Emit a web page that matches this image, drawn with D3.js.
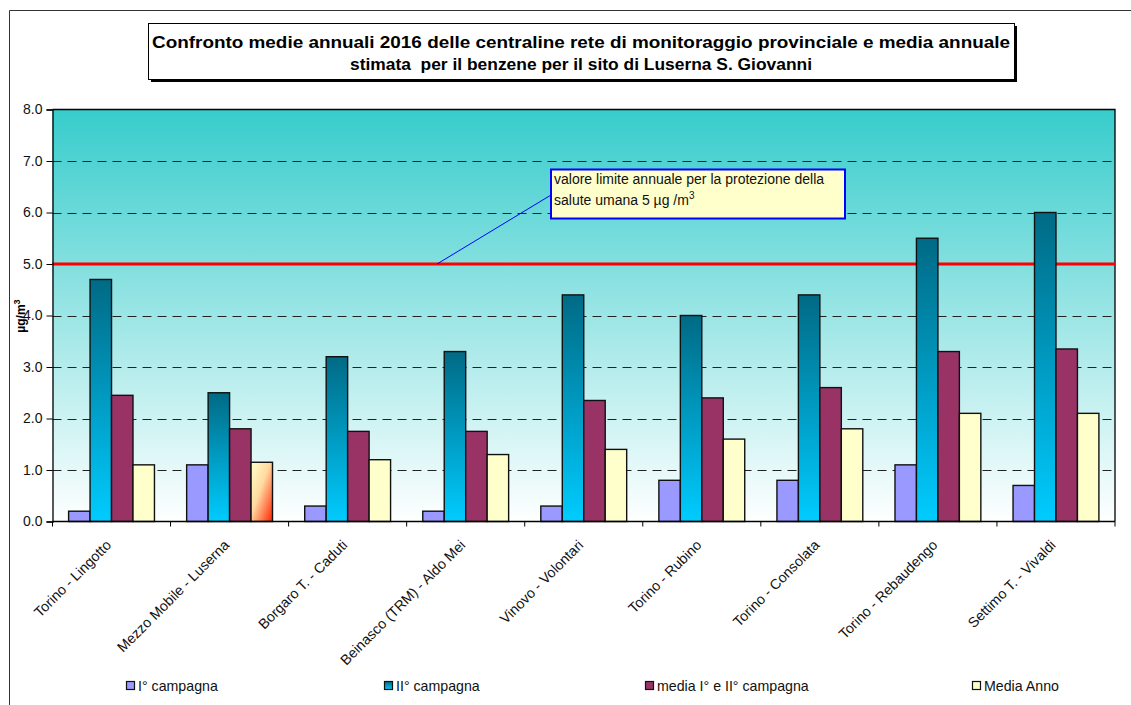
<!DOCTYPE html>
<html>
<head>
<meta charset="utf-8">
<script src="https://cdn.jsdelivr.net/npm/d3@7"></script>
<style>
  html, body { margin: 0; padding: 0; background: #fff; }
  svg { display: block; font-family: "Liberation Sans", Arial, sans-serif; }
</style>
</head>
<body>
<svg id="chart" width="1131" height="705"></svg>
<script>
// Monitoring stations (x categories)
const stations = [
  "Torino - Lingotto",
  "Mezzo Mobile - Luserna",
  "Borgaro T. - Caduti",
  "Beinasco (TRM) - Aldo Mei",
  "Vinovo - Volontari",
  "Torino - Rubino",
  "Torino - Consolata",
  "Torino - Rebaudengo",
  "Settimo T. - Vivaldi"
];

// Benzene concentrations (µg/m³)
const primaCampagna   = [0.2, 1.1, 0.3, 0.2, 0.3, 0.8, 0.8, 1.1, 0.7];
const secondaCampagna = [4.7, 2.5, 3.2, 3.3, 4.4, 4.0, 4.4, 5.5, 6.0];
const mediaCampagne   = [2.45, 1.8, 1.75, 1.75, 2.35, 2.4, 2.6, 3.3, 3.35];
const mediaAnno       = [1.1, 1.15, 1.2, 1.3, 1.4, 1.6, 1.8, 2.1, 2.1];

const seriesNames = ["I° campagna", "II° campagna", "media I° e II° campagna", "Media Anno"];
const yTicks = [0, 1, 2, 3, 4, 5, 6, 7, 8];
const limitValue = 5;
const estimatedSite = "Mezzo Mobile - Luserna";

const seriesValues = [primaCampagna, secondaCampagna, mediaCampagne, mediaAnno];
const seriesFill = ["#9999FF", "url(#gradII)", "#993366", "#FFFFCC"];

const svg = d3.select("#chart");
const defs = svg.append("defs");

// Plot background: teal at the top fading to white
const bg = defs.append("linearGradient").attr("id", "gradBg")
  .attr("x1", 0).attr("y1", 0).attr("x2", 0).attr("y2", 1);
bg.append("stop").attr("offset", "0%").attr("stop-color", "#38CCCC");
bg.append("stop").attr("offset", "100%").attr("stop-color", "#FFFFFF");

// II° campagna bars: dark teal to cyan
const g2 = defs.append("linearGradient").attr("id", "gradII")
  .attr("x1", 0).attr("y1", 0).attr("x2", 0).attr("y2", 1);
g2.append("stop").attr("offset", "0%").attr("stop-color", "#006A85");
g2.append("stop").attr("offset", "100%").attr("stop-color", "#00CCFF");

// Highlighted annual mean for the estimated site
const gh = defs.append("linearGradient").attr("id", "gradHL")
  .attr("x1", 0).attr("y1", 0).attr("x2", 1).attr("y2", 1);
gh.append("stop").attr("offset", "0%").attr("stop-color", "#FFFFCC");
gh.append("stop").attr("offset", "45%").attr("stop-color", "#FFD9A0");
gh.append("stop").attr("offset", "100%").attr("stop-color", "#FF2200");

// Outer frame
svg.append("line").attr("x1", 9.5).attr("y1", 10.5).attr("x2", 1131).attr("y2", 10.5)
  .attr("stroke", "#333").attr("stroke-width", 1);
svg.append("line").attr("x1", 9.5).attr("y1", 10.5).attr("x2", 9.5).attr("y2", 705)
  .attr("stroke", "#333").attr("stroke-width", 1);

// Plot area
const x0 = 52.5, x1 = 1115, yTop = 109.5, yBot = 521.5;

const y = d3.scaleLinear().domain([0, 8]).range([yBot, yTop]);
const xCat = d3.scaleBand().domain(stations).range([x0, x1]);
const xSer = d3.scaleBand().domain(d3.range(4)).range([0, xCat.bandwidth()])
  .paddingInner(0).paddingOuter(0.75);

svg.append("rect").attr("x", x0).attr("y", yTop)
  .attr("width", x1 - x0).attr("height", yBot - yTop)
  .attr("fill", "url(#gradBg)");

// Gridlines
svg.append("g").selectAll("line")
  .data(yTicks.filter(v => v > 0 && v < 8))
  .join("line")
  .attr("x1", x0).attr("x2", x1)
  .attr("y1", d => Math.round(y(d)) + 0.5).attr("y2", d => Math.round(y(d)) + 0.5)
  .attr("stroke", "#222").attr("stroke-width", 1)
  .attr("stroke-dasharray", "9,6");

// Plot border (top and right)
svg.append("path")
  .attr("d", `M${x0},${yTop}H${x1}V${yBot}`)
  .attr("fill", "none").attr("stroke", "#000").attr("stroke-width", 1.3);

// Limit line at 5 µg/m³
svg.append("line").attr("x1", x0).attr("x2", x1)
  .attr("y1", y(limitValue)).attr("y2", y(limitValue))
  .attr("stroke", "#FF0000").attr("stroke-width", 3);

// Bars
const bars = [];
stations.forEach((s, i) => {
  seriesValues.forEach((vals, k) => {
    bars.push({ station: s, k, value: vals[i] });
  });
});
svg.append("g").selectAll("rect")
  .data(bars)
  .join("rect")
  .attr("x", d => xCat(d.station) + xSer(d.k))
  .attr("y", d => y(d.value))
  .attr("width", xSer.bandwidth())
  .attr("height", d => y(0) - y(d.value))
  .attr("fill", d => (d.k === 3 && d.station === estimatedSite) ? "url(#gradHL)" : seriesFill[d.k])
  .attr("stroke", "#111").attr("stroke-width", 1.4);

// Y axis
const yAxis = svg.append("g").attr("transform", `translate(${x0},0)`)
  .call(d3.axisLeft(y).tickValues(yTicks).tickFormat(d3.format(".1f")).tickSizeOuter(0).tickSize(6).tickPadding(4));
yAxis.select(".domain").attr("stroke", "#000").attr("stroke-width", 1.3);
yAxis.selectAll(".tick line").attr("stroke", "#000");
yAxis.selectAll(".tick text").attr("font-size", "14px").attr("fill", "#111")
  .attr("font-family", "Liberation Sans, Arial, sans-serif");

// X axis
const xAxisG = svg.append("g");
xAxisG.append("line").attr("x1", x0).attr("x2", x1).attr("y1", yBot).attr("y2", yBot)
  .attr("stroke", "#000").attr("stroke-width", 1.3);
const boundaries = stations.map(s => xCat(s)).concat([x1]);
xAxisG.selectAll("line.tk").data(boundaries).join("line").attr("class", "tk")
  .attr("x1", d => d).attr("x2", d => d).attr("y1", yBot).attr("y2", yBot + 5)
  .attr("stroke", "#000");
xAxisG.selectAll("text").data(stations).join("text")
  .attr("transform", d => `translate(${xCat(d) + xCat.bandwidth() / 2 - 3},${yBot + 21}) rotate(-45)`)
  .attr("text-anchor", "end")
  .attr("dy", "0.35em")
  .attr("font-size", "14.2px").attr("fill", "#111")
  .text(d => d);

// Y axis label
const yl = svg.append("text")
  .attr("transform", "translate(25,316) rotate(-90)")
  .attr("text-anchor", "middle")
  .attr("font-size", "12px").attr("font-weight", "bold").attr("fill", "#000");
yl.append("tspan").text("µg/m");
yl.append("tspan").attr("dy", "-5").attr("font-size", "9px").text("3");

// Title box with shadow
svg.append("rect").attr("x", 151).attr("y", 26).attr("width", 866).attr("height", 56).attr("fill", "#000");
svg.append("rect").attr("x", 148.5).attr("y", 23.5).attr("width", 866).attr("height", 56)
  .attr("fill", "#fff").attr("stroke", "#000").attr("stroke-width", 1);
const titleLines = [
  "Confronto medie annuali 2016 delle centraline rete di monitoraggio provinciale e media annuale",
  "stimata  per il benzene per il sito di Luserna S. Giovanni"
];
const titleWidths = [858, 462];
svg.append("g").selectAll("text").data(titleLines).join("text")
  .attr("x", 581).attr("y", (d, i) => 48 + i * 22)
  .attr("text-anchor", "middle")
  .attr("font-size", "16.5px").attr("font-weight", "bold").attr("fill", "#000")
  .attr("textLength", (d, i) => titleWidths[i]).attr("lengthAdjust", "spacingAndGlyphs")
  .style("white-space", "pre")
  .text(d => d);

// Callout for the annual limit
svg.append("line").attr("x1", 437).attr("y1", y(limitValue)).attr("x2", 551).attr("y2", 195)
  .attr("stroke", "#0000FF").attr("stroke-width", 1);
svg.append("rect").attr("x", 551).attr("y", 169.5).attr("width", 294).attr("height", 49)
  .attr("fill", "#FFFFCC").attr("stroke", "#0000FF").attr("stroke-width", 2);
svg.append("text").attr("x", 554).attr("y", 184).attr("font-size", "14px").attr("fill", "#111")
  .text("valore limite annuale per la protezione della");
const t2 = svg.append("text").attr("x", 554).attr("y", 205).attr("font-size", "14px").attr("fill", "#111");
t2.append("tspan").text("salute umana 5 µg /m");
t2.append("tspan").attr("dy", "-6").attr("font-size", "10px").text("3");

// Legend
const legendX = [126, 384, 645, 972];
const legendFill = ["#9999FF", "url(#gradII)", "#993366", "#FFFFCC"];
const lg = svg.append("g").selectAll("g").data(seriesNames).join("g")
  .attr("transform", (d, i) => `translate(${legendX[i]},681)`);
lg.append("rect").attr("x", 0.5).attr("y", 0.5).attr("width", 8).attr("height", 8)
  .attr("fill", (d, i) => legendFill[i]).attr("stroke", "#111").attr("stroke-width", 1.2);
lg.append("text").attr("x", 12).attr("y", 10).attr("font-size", "14.2px").attr("fill", "#111")
  .text(d => d);
</script>
</body>
</html>
